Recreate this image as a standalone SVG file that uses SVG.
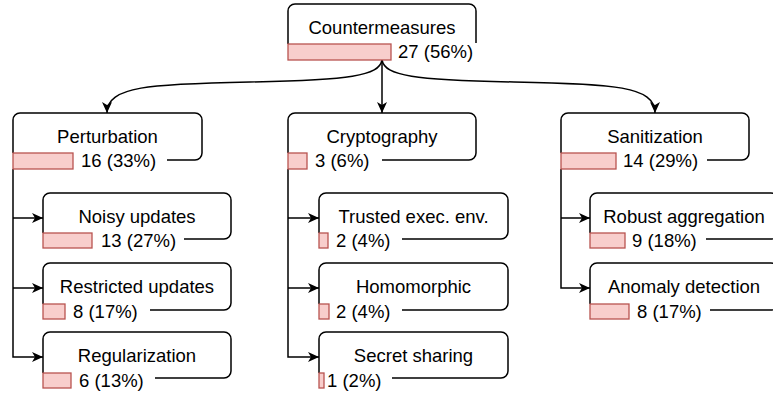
<svg xmlns="http://www.w3.org/2000/svg" width="773" height="396" viewBox="0 0 773 396">
<defs>
<style>
.box{fill:none;stroke:#000;stroke-width:1.5}
.bar{fill:#f8cecc;stroke:#b85450;stroke-width:1.3}
.t{font-family:"Liberation Sans",Arial,sans-serif;font-size:18.5px;fill:#000}
.c{text-anchor:middle}
.e{fill:none;stroke:#000;stroke-width:1.5}
</style>
<marker id="ar" viewBox="0 0 11 10" refX="11" refY="5" markerWidth="11" markerHeight="10" markerUnits="userSpaceOnUse" orient="auto">
<path d="M0,0 L11,5 L0,10 L3,5 z" fill="#000"/>
</marker>
</defs>
<rect width="773" height="396" fill="#fff"/>
<g id="connectors">
<path class="e" d="M382,60 C379,76 350,80 250,82 C150,84 107,86 107,113" marker-end="url(#ar)"/>
<path class="e" d="M382,60 V113" marker-end="url(#ar)"/>
<path class="e" d="M382,60 C385,76 414,80 514,82 C614,84 655,86 655,113" marker-end="url(#ar)"/>
<path class="e" d="M13,169 V357 H43" marker-end="url(#ar)"/>
<path class="e" d="M13,218 H43" marker-end="url(#ar)"/>
<path class="e" d="M13,288 H43" marker-end="url(#ar)"/>
<path class="e" d="M288,169 V357 H319" marker-end="url(#ar)"/>
<path class="e" d="M288,218 H319" marker-end="url(#ar)"/>
<path class="e" d="M288,288 H319" marker-end="url(#ar)"/>
<path class="e" d="M561,169 V288 H590" marker-end="url(#ar)"/>
<path class="e" d="M561,218 H590" marker-end="url(#ar)"/>
</g>
<g id="countermeasures">
<path class="box" d="M476,43 V11 A7,7 0 0 0 469,4 H295 A7,7 0 0 0 288,11 V44"/>
<text class="t c" x="382" y="34">Countermeasures</text>
<rect class="bar" x="288" y="44" width="103" height="16"/>
<text class="t" x="398" y="58">27 (56%)</text>
</g>
<g id="perturbation">
<path class="box" d="M167,160 H195 A7,7 0 0 0 202,153 V120 A7,7 0 0 0 195,113 H20 A7,7 0 0 0 13,120 V153"/>
<text class="t c" x="107.5" y="143">Perturbation</text>
<rect class="bar" x="13" y="153" width="60" height="16"/>
<text class="t" x="81" y="167">16 (33%)</text>
</g>
<g id="cryptography">
<path class="box" d="M382,160 H469 A7,7 0 0 0 476,153 V120 A7,7 0 0 0 469,113 H295 A7,7 0 0 0 288,120 V153"/>
<text class="t c" x="382" y="143">Cryptography</text>
<rect class="bar" x="288" y="153" width="19" height="16"/>
<text class="t" x="315" y="167">3 (6%)</text>
</g>
<g id="sanitization">
<path class="box" d="M707,160 H742 A7,7 0 0 0 749,153 V120 A7,7 0 0 0 742,113 H568 A7,7 0 0 0 561,120 V153"/>
<text class="t c" x="655" y="143">Sanitization</text>
<rect class="bar" x="561" y="153" width="55" height="16"/>
<text class="t" x="623" y="167">14 (29%)</text>
</g>
<g id="noisy-updates">
<path class="box" d="M184,239 H224 A7,7 0 0 0 231,232 V200 A7,7 0 0 0 224,193 H50 A7,7 0 0 0 43,200 V233"/>
<text class="t c" x="137" y="223">Noisy updates</text>
<rect class="bar" x="43" y="233" width="49" height="15"/>
<text class="t" x="101" y="247">13 (27%)</text>
</g>
<g id="restricted-updates">
<path class="box" d="M150,310 H224 A7,7 0 0 0 231,303 V270 A7,7 0 0 0 224,263 H50 A7,7 0 0 0 43,270 V304"/>
<text class="t c" x="137" y="293">Restricted updates</text>
<rect class="bar" x="43" y="304" width="22" height="15"/>
<text class="t" x="73" y="318">8 (17%)</text>
</g>
<g id="regularization">
<path class="box" d="M155,378 H224 A7,7 0 0 0 231,371 V339 A7,7 0 0 0 224,332 H50 A7,7 0 0 0 43,339 V373"/>
<text class="t c" x="137" y="362">Regularization</text>
<rect class="bar" x="43" y="373" width="28" height="15"/>
<text class="t" x="79" y="387">6 (13%)</text>
</g>
<g id="trusted-exec-env">
<path class="box" d="M402,239 H501 A7,7 0 0 0 508,232 V200 A7,7 0 0 0 501,193 H326 A7,7 0 0 0 319,200 V233"/>
<text class="t c" x="413.5" y="223">Trusted exec. env.</text>
<rect class="bar" x="319" y="233" width="9" height="15"/>
<text class="t" x="336" y="247">2 (4%)</text>
</g>
<g id="homomorphic">
<path class="box" d="M402,310 H501 A7,7 0 0 0 508,303 V270 A7,7 0 0 0 501,263 H326 A7,7 0 0 0 319,270 V304"/>
<text class="t c" x="413.5" y="293">Homomorphic</text>
<rect class="bar" x="319" y="304" width="10" height="15"/>
<text class="t" x="336" y="318">2 (4%)</text>
</g>
<g id="secret-sharing">
<path class="box" d="M392,378 H501 A7,7 0 0 0 508,371 V339 A7,7 0 0 0 501,332 H326 A7,7 0 0 0 319,339 V373"/>
<text class="t c" x="413.5" y="362">Secret sharing</text>
<rect class="bar" x="319" y="373" width="5" height="15"/>
<text class="t" x="327" y="387">1 (2%)</text>
</g>
<g id="robust-aggregation">
<path class="box" d="M706,239 H771 A7,7 0 0 0 778,232 V200 A7,7 0 0 0 771,193 H597 A7,7 0 0 0 590,200 V233"/>
<text class="t c" x="684" y="223">Robust aggregation</text>
<rect class="bar" x="590" y="233" width="35" height="15"/>
<text class="t" x="632" y="247">9 (18%)</text>
</g>
<g id="anomaly-detection">
<path class="box" d="M710,310 H771 A7,7 0 0 0 778,303 V270 A7,7 0 0 0 771,263 H597 A7,7 0 0 0 590,270 V304"/>
<text class="t c" x="684" y="293">Anomaly detection</text>
<rect class="bar" x="590" y="304" width="39" height="15"/>
<text class="t" x="637" y="318">8 (17%)</text>
</g>
</svg>
